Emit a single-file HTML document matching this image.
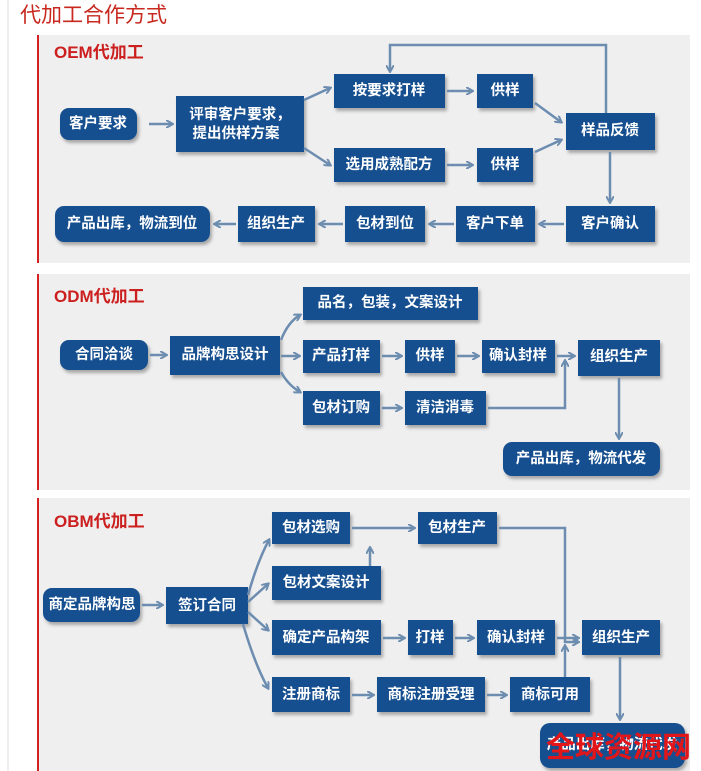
<!DOCTYPE html>
<html><head><meta charset="utf-8"><style>
html,body{margin:0;padding:0;background:#fff;}
svg{display:block}
text{font-family:"Liberation Sans","Noto Sans CJK SC",sans-serif;}
.b{fill:#17508f;filter:url(#sh)}
.t{fill:#fff;font-size:14.5px;font-weight:bold;text-anchor:middle;dominant-baseline:central}
.l{stroke:#6d8db0;stroke-width:2.5;fill:none;marker-end:url(#ar)}
.h{fill:#cc1f1f;font-size:17px;font-weight:bold}
</style></head><body>
<svg width="701" height="771" viewBox="0 0 701 771">
<defs>
<filter id="sh" x="-10%" y="-10%" width="130%" height="140%"><feDropShadow dx="2" dy="3" stdDeviation="1.5" flood-color="#000" flood-opacity="0.3"/></filter>
<marker id="ar" markerWidth="8" markerHeight="8" refX="6" refY="4" orient="auto" markerUnits="userSpaceOnUse"><path d="M0,0 L7,4 L0,8" fill="none" stroke="#6d8db0" stroke-width="2"/></marker>
</defs>
<line x1="8" y1="0" x2="8" y2="771" stroke="#ddd"/>
<text x="20" y="22" fill="#c8281e" font-size="21">代加工合作方式</text>
<rect x="38" y="35" width="652" height="228" fill="#efefef"/>
<rect x="37" y="35" width="2" height="228" fill="#d42020"/>
<rect x="38" y="274" width="652" height="216" fill="#efefef"/>
<rect x="37" y="274" width="2" height="216" fill="#d42020"/>
<rect x="38" y="498" width="652" height="273" fill="#efefef"/>
<rect x="37" y="498" width="2" height="273" fill="#d42020"/>
<text x="54" y="58" class="h">OEM代加工</text>
<text x="54" y="302" class="h">ODM代加工</text>
<text x="54" y="527" class="h">OBM代加工</text>

<rect class="b" x="60" y="108" width="77" height="32" rx="9"/><text class="t" x="98" y="124">客户要求</text>
<rect class="b" x="176" y="96" width="128" height="56"/><text class="t" x="240" y="115">评审客户要求，</text><text class="t" x="236" y="134">提出供样方案</text>
<rect class="b" x="334" y="74" width="111" height="34"/><text class="t" x="389" y="91">按要求打样</text>
<rect class="b" x="477" y="74" width="56" height="34"/><text class="t" x="505" y="91">供样</text>
<rect class="b" x="334" y="148" width="111" height="34"/><text class="t" x="389" y="165">选用成熟配方</text>
<rect class="b" x="477" y="148" width="56" height="34"/><text class="t" x="505" y="165">供样</text>
<rect class="b" x="566" y="113" width="89" height="37"/><text class="t" x="610" y="131">样品反馈</text>
<rect class="b" x="55" y="206" width="155" height="36" rx="9"/><text class="t" x="132" y="224">产品出库，物流到位</text>
<rect class="b" x="238" y="206" width="77" height="36"/><text class="t" x="276" y="224">组织生产</text>
<rect class="b" x="345" y="206" width="80" height="36"/><text class="t" x="385" y="224">包材到位</text>
<rect class="b" x="456" y="206" width="79" height="36"/><text class="t" x="495" y="224">客户下单</text>
<rect class="b" x="566" y="206" width="89" height="36"/><text class="t" x="610" y="224">客户确认</text>
<path class="l" d="M149,124 H172"/>
<path class="l" d="M304,100 L330,88"/>
<path class="l" d="M304,148 L330,165"/>
<path class="l" d="M447,91 H472"/>
<path class="l" d="M447,165 H472"/>
<path class="l" d="M535,103 L561,122"/>
<path class="l" d="M535,152 L561,140"/>
<path class="l" d="M606,113 V45 H390 V71"/>
<path class="l" d="M610,152 V202"/>
<path class="l" d="M564,224 H540"/>
<path class="l" d="M454,224 H430"/>
<path class="l" d="M343,224 H320"/>
<path class="l" d="M236,224 H215"/>

<rect class="b" x="60" y="340" width="88" height="30" rx="9"/><text class="t" x="104" y="355">合同洽谈</text>
<rect class="b" x="170" y="336" width="110" height="39"/><text class="t" x="225" y="355">品牌构思设计</text>
<rect class="b" x="303" y="287" width="175" height="33"/><text class="t" x="390" y="303">品名，包装，文案设计</text>
<rect class="b" x="303" y="340" width="77" height="33"/><text class="t" x="341" y="356">产品打样</text>
<rect class="b" x="405" y="340" width="50" height="33"/><text class="t" x="430" y="356">供样</text>
<rect class="b" x="482" y="340" width="73" height="33"/><text class="t" x="518" y="356">确认封样</text>
<rect class="b" x="578" y="340" width="82" height="36"/><text class="t" x="619" y="357">组织生产</text>
<rect class="b" x="303" y="391" width="77" height="34"/><text class="t" x="341" y="408">包材订购</text>
<rect class="b" x="405" y="391" width="81" height="34"/><text class="t" x="445" y="408">清洁消毒</text>
<rect class="b" x="503" y="442" width="157" height="34" rx="9"/><text class="t" x="581" y="459">产品出库，物流代发</text>
<path class="l" d="M150,355 H166"/>
<path class="l" d="M281,340 Q288,322 300,315"/>
<path class="l" d="M281,356 H299"/>
<path class="l" d="M281,372 Q288,385 300,392"/>
<path class="l" d="M382,356 H401"/>
<path class="l" d="M457,356 H478"/>
<path class="l" d="M557,356 H574"/>
<path class="l" d="M382,408 H401"/>
<path class="l" d="M488,408 H565 V361"/>
<path class="l" d="M619,378 V438"/>

<rect class="b" x="43" y="588" width="97" height="34" rx="9"/><text class="t" x="92" y="605">商定品牌构思</text>
<rect class="b" x="166" y="587" width="82" height="37"/><text class="t" x="207" y="606">签订合同</text>
<rect class="b" x="272" y="512" width="78" height="32"/><text class="t" x="311" y="528">包材选购</text>
<rect class="b" x="418" y="512" width="79" height="32"/><text class="t" x="457" y="528">包材生产</text>
<rect class="b" x="272" y="566" width="109" height="34"/><text class="t" x="326" y="583">包材文案设计</text>
<rect class="b" x="272" y="620" width="109" height="35"/><text class="t" x="326" y="638">确定产品构架</text>
<rect class="b" x="408" y="620" width="45" height="35"/><text class="t" x="430" y="638">打样</text>
<rect class="b" x="477" y="620" width="78" height="35"/><text class="t" x="516" y="638">确认封样</text>
<rect class="b" x="582" y="620" width="78" height="35"/><text class="t" x="621" y="638">组织生产</text>
<rect class="b" x="272" y="677" width="78" height="35"/><text class="t" x="311" y="695">注册商标</text>
<rect class="b" x="377" y="677" width="108" height="35"/><text class="t" x="431" y="695">商标注册受理</text>
<rect class="b" x="510" y="677" width="80" height="35"/><text class="t" x="550" y="695">商标可用</text>
<rect class="b" x="540" y="723" width="145" height="45" rx="10"/><text class="t" x="612" y="745">产品出库，物流代发</text>
<text x="546" y="757" fill="#e0161a" font-size="29" font-weight="bold" font-family="'Noto Sans CJK SC',sans-serif">全球资源网</text>
<path class="l" d="M142,605 H162"/>
<path class="l" d="M248,595 Q258,560 269,540"/>
<path class="l" d="M248,602 L268,584"/>
<path class="l" d="M248,612 L268,630"/>
<path class="l" d="M243,624 Q255,665 268,688"/>
<path class="l" d="M352,528 H414"/>
<path class="l" d="M370,566 V548"/>
<path class="l" d="M499,528 H565 V642 L578,642"/>
<path class="l" d="M383,638 H404"/>
<path class="l" d="M455,638 H473"/>
<path class="l" d="M557,638 H578"/>
<path class="l" d="M565,677 V646"/>
<path class="l" d="M352,695 H373"/>
<path class="l" d="M487,695 H506"/>
<path class="l" d="M620,657 V719"/>
</svg>
</body></html>
